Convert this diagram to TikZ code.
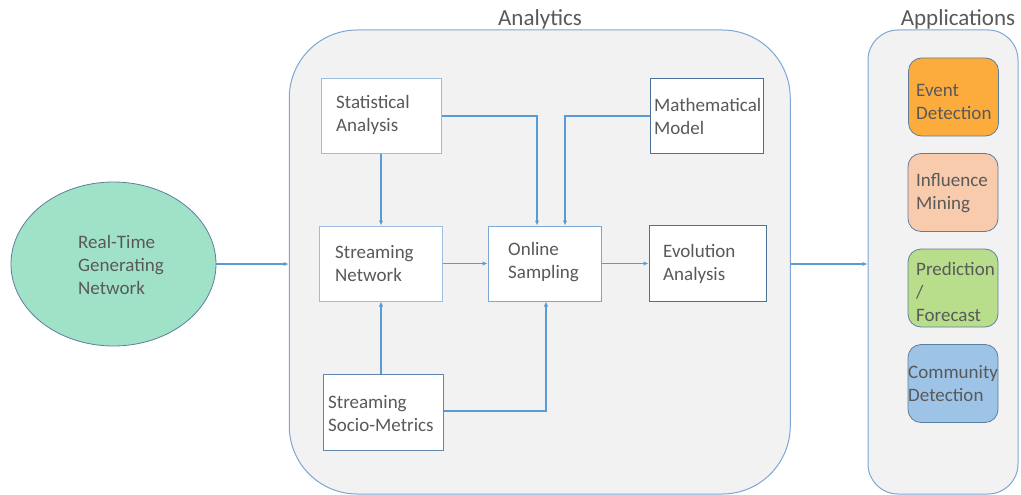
\documentclass[tikz,border=0pt]{standalone}
\usepackage{fontspec}
\setmainfont{Carlito}
\usetikzlibrary{arrows.meta,shapes.geometric}

\definecolor{txtgray}{HTML}{595959}
\definecolor{linkblue}{HTML}{5B9BD5}
\definecolor{panelfill}{HTML}{F2F2F2}
\definecolor{panelline}{HTML}{7EA6D4}
\definecolor{boxlight}{HTML}{9DBCE0}
\definecolor{boxdark}{HTML}{4A6F9A}
\definecolor{mint}{HTML}{A0E2C8}
\definecolor{appline}{HTML}{5E7E9E}
\definecolor{apporange}{HTML}{FBAC3C}
\definecolor{apppeach}{HTML}{F8CBAD}
\definecolor{appgreen}{HTML}{B8DE8C}
\definecolor{appblue}{HTML}{9DC3E6}

\tikzset{
  panel/.style={draw=panelline, fill=panelfill, line width=1pt, inner sep=0pt},
  paneltitle/.style={text=txtgray, font=\fontsize{23}{27}\selectfont, anchor=base, inner sep=0pt},
  procbox/.style={draw=boxlight, fill=white, line width=1pt, inner sep=0pt},
  procboxdark/.style={procbox, draw=boxdark},
  appbox/.style={draw=appline, line width=0.8pt, rounded corners=13pt, inner sep=0pt,
    minimum width=90pt, minimum height=78pt},
  label/.style={text=txtgray, font=\fontsize{19}{23}\selectfont, align=left,
    anchor=west, inner sep=0pt},
  conn/.style={draw=linkblue, line width=1.1pt, -{Latex[length=5pt,width=4.5pt]}},
}

\begin{document}
\begin{tikzpicture}[x=1pt,y=-1pt]
\useasboundingbox (0,0) rectangle (1021,495);
\clip (0,0) rectangle (1021,495);

% source
\node[ellipse, draw=appline, fill=mint, line width=0.8pt, inner sep=0pt,
      minimum width=205pt, minimum height=164pt] (gen) at (113.5,264) {};
\node[label] (gentxt) at (78,265) {Real-Time\\Generating\\Network};

% analytics panel
\node[panel, rounded corners=68pt, minimum width=501pt, minimum height=464pt]
  (ana) at (539.75,262) {};
\node[paneltitle] (anatitle) at (540,26) {Analytics};

% applications panel
\node[panel, rounded corners=30pt, minimum width=150pt, minimum height=464pt]
  (app) at (943,262) {};
\node[paneltitle] (apptitle) at (958,26) {Applications};

% processing blocks
\node[procbox, minimum width=120pt, minimum height=74pt] (stat) at (381,116) {};
\node[label] (stattxt) at (336,114.5) {Statistical\\Analysis};

\node[procboxdark, minimum width=113pt, minimum height=74pt] (math) at (706.5,116) {};
\node[label] (mathtxt) at (654,116.5) {Mathematical\\Model};

\node[procbox, minimum width=123pt, minimum height=75pt] (net) at (380.5,263.5) {};
\node[label] (nettxt) at (335,263.5) {Streaming\\Network};

\node[procbox, draw=panelline, minimum width=113pt, minimum height=75pt] (samp) at (544.5,263.5) {};
\node[label] (samptxt) at (508,262.5) {Online\\Sampling};

\node[procboxdark, minimum width=117pt, minimum height=76pt] (evo) at (707.5,263) {};
\node[label] (evotxt) at (663,263.5) {Evolution\\Analysis};

\node[procbox, draw=boxdark!70!boxlight, minimum width=120pt, minimum height=76pt] (socio) at (383,412) {};
\node[label] (sociotxt) at (328,414) {Streaming\\Socio-Metrics};

% application blocks
\node[appbox, fill=apporange] (event) at (953.5,97) {};
\node[label] (eventtxt) at (916,102) {Event\\Detection};

\node[appbox, fill=apppeach] (infl) at (953,192.5) {};
\node[label] (infltxt) at (916,193) {Influence\\Mining};

\node[appbox, fill=appgreen] (pred) at (953,288) {};
\node[label] (predtxt) at (916,291.5) {Prediction\\/\\Forecast};

\node[appbox, fill=appblue] (comm) at (953,383.5) {};
\node[label] (commtxt) at (908,383.5) {Community\\Detection};

% connectors
\draw[conn] (gen.east) -- (gen.east -| ana.west);
\draw[conn] (ana.east |- gen.east) -- (app.west |- gen.east);

\draw[conn] (stat.south) -- (stat.south |- net.north);
\draw[conn] (socio.north -| stat.south) -- (net.south -| stat.south);
\draw[conn] (stat.east) -| ([xshift=-7.5pt]samp.north);
\draw[conn] (math.west) -| ([xshift=20.5pt]samp.north);
\draw[conn] ([yshift=1pt]socio.east) -| ([xshift=1.5pt]samp.south);
\draw[conn] (net.east) -- (net.east -| samp.west);
\draw[conn] (samp.east) -- (samp.east -| evo.west);
\end{tikzpicture}
\end{document}
